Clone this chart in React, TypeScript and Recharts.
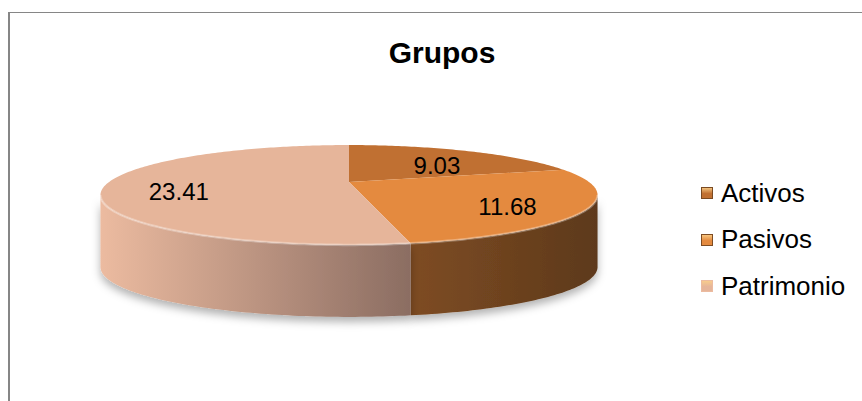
import React from "react";
import { PieChart, Pie, Cell, Legend } from "recharts";

// values
const categories = ["Activos", "Pasivos", "Patrimonio"];
const values = [9.03, 11.68, 23.41];
const title = "Grupos";

const data = categories.map((name, i) => ({ name, value: values[i] }));

const topColors: Record<string, string> = {
  Activos: "#c07032",
  Pasivos: "#e48a3f",
  Patrimonio: "#e6b59a",
};
const sideColors: Record<string, [string, string]> = {
  Activos: ["#7a4a22", "#5e391b"],
  Pasivos: ["#7e4c23", "#5d391b"],
  Patrimonio: ["#ecbba0", "#8b6d62"],
};

const FONT = '"Liberation Sans", Arial, sans-serif';
const RAD = Math.PI / 180;
// tilted disc with a bit of perspective (like Excel's 3-D pie)
const PERSP = 0.26;
const TILT = 0.194;
const DEPTH = 72;
const SILHOUETTE = Math.asin(PERSP) / RAD;

function project(cx: number, cy: number, r: number, deg: number, k = 1): [number, number] {
  const u = k * Math.cos(deg * RAD);
  const v = k * Math.sin(deg * RAD);
  const w = 1 + PERSP * v;
  return [cx + (r * u) / w, cy - (r * TILT * v) / w];
}

function arcPoints(cx: number, cy: number, r: number, from: number, to: number) {
  const pts: [number, number][] = [];
  const n = Math.max(2, Math.ceil(Math.abs(to - from)));
  for (let i = 0; i <= n; i++) pts.push(project(cx, cy, r, from + ((to - from) * i) / n));
  return pts;
}

const toPath = (pts: [number, number][]) =>
  pts.map((p, i) => `${i ? "L" : "M"}${p[0].toFixed(2)},${p[1].toFixed(2)}`).join(" ");

// parts of a slice that face the viewer
function frontRanges(start: number, end: number) {
  const lo0 = Math.min(start, end);
  const hi0 = Math.max(start, end);
  const out: [number, number][] = [];
  for (const k of [-360, 0, 360]) {
    const lo = Math.max(lo0, -180 + SILHOUETTE + k);
    const hi = Math.min(hi0, -SILHOUETTE + k);
    if (lo < hi) out.push([lo, hi]);
  }
  return out;
}

function SideShape(props: any) {
  const { cx, cy, outerRadius, startAngle, endAngle, name } = props;
  const key = String(name).replace(/\W/g, "");
  const [c0, c1] = sideColors[name] || ["#888", "#555"];
  return (
    <g>
      <defs>
        <linearGradient id={`side-${key}`} x1="0" y1="0" x2="1" y2="0">
          <stop offset="0%" stopColor={c0} />
          <stop offset="100%" stopColor={c1} />
        </linearGradient>
        <filter id={`shadow-${key}`} x="-10%" y="-30%" width="120%" height="170%">
          <feDropShadow dx="0" dy="5" stdDeviation="4" floodColor="#000" floodOpacity="0.3" />
        </filter>
      </defs>
      {frontRanges(startAngle, endAngle).map(([lo, hi], i) => {
        const top = arcPoints(cx, cy, outerRadius, hi, lo);
        const bottom = arcPoints(cx, cy, outerRadius, lo, hi).map(([x, y]) => [x, y + DEPTH] as [number, number]);
        return (
          <path
            key={i}
            d={toPath([...top, ...bottom]) + " Z"}
            fill={`url(#side-${key})`}
            filter={`url(#shadow-${key})`}
          />
        );
      })}
    </g>
  );
}

function TopShape(props: any) {
  const { cx, cy, outerRadius, startAngle, endAngle, fill } = props;
  const rim = arcPoints(cx, cy, outerRadius, startAngle, endAngle);
  return (
    <g>
      <path d={`M${cx},${cy} ` + toPath(rim).replace(/^M/, "L") + " Z"} fill={fill} />
      {frontRanges(startAngle, endAngle).map(([lo, hi], i) => (
        <path
          key={i}
          d={toPath(arcPoints(cx, cy, outerRadius, lo, hi))}
          fill="none"
          stroke="rgba(255,255,255,0.3)"
          strokeWidth={2.5}
        />
      ))}
    </g>
  );
}

function renderLabel(props: any) {
  const { cx, cy, midAngle, outerRadius, value } = props;
  const [x, y] = project(cx, cy, outerRadius, midAngle, 0.7);
  return (
    <text x={x} y={y + 6} textAnchor="middle" dominantBaseline="central" fontSize={24} fontFamily={FONT} fill="#000">
      {Number(value).toFixed(2)}
    </text>
  );
}

function LegendContent({ payload }: any) {
  const seen = new Set<string>();
  const items = (payload || []).filter((e: any) => {
    if (e.type === "none" || seen.has(e.value)) return false;
    seen.add(e.value);
    return true;
  });
  return (
    <div style={{ fontFamily: FONT, fontSize: 26, color: "#000" }}>
      {items.map((entry: any) => (
        <div key={entry.value} style={{ display: "flex", alignItems: "center", height: 46.5 }}>
          <span
            style={{
              display: "inline-block",
              width: 12,
              height: 12,
              marginRight: 8,
              background: `linear-gradient(180deg, #fbd08a 0%, ${entry.color} 55%)`,
              boxShadow: `inset 0 0 0 1px ${sideColors[entry.value]?.[0] ?? entry.color}`,
            }}
          />
          <span>{entry.value}</span>
        </div>
      ))}
    </div>
  );
}

export default function App() {
  return (
    <div style={{ position: "fixed", left: 0, top: 0, width: 862, height: 401, background: "#fff", overflow: "hidden" }}>
      <div
        style={{
          position: "absolute",
          left: 8,
          top: 12,
          width: 900,
          height: 420,
          borderTop: "1px solid #868686",
          borderLeft: "2px solid #868686",
        }}
      />
      <div
        style={{
          position: "absolute",
          left: 0,
          width: 884,
          top: 36,
          textAlign: "center",
          fontFamily: FONT,
          fontWeight: "bold",
          fontSize: 30,
          color: "#000",
        }}
      >
        {title}
      </div>
      <div style={{ position: "absolute", left: 0, top: 0 }}>
        <PieChart width={862} height={401} margin={{ top: 0, right: 0, bottom: 0, left: 0 }}>
          <Pie
            data={data}
            dataKey="value"
            nameKey="name"
            cx={349}
            cy={182}
            outerRadius={240}
            startAngle={90}
            endAngle={-270}
            shape={SideShape}
            legendType="none"
            isAnimationActive={false}
          >
            {data.map((d) => (
              <Cell key={d.name} fill={topColors[d.name]} />
            ))}
          </Pie>
          <Pie
            data={data}
            dataKey="value"
            nameKey="name"
            cx={349}
            cy={182}
            outerRadius={240}
            startAngle={90}
            endAngle={-270}
            shape={TopShape}
            label={renderLabel}
            labelLine={false}
            isAnimationActive={false}
          >
            {data.map((d) => (
              <Cell key={d.name} fill={topColors[d.name]} />
            ))}
          </Pie>
          <Legend
            layout="vertical"
            verticalAlign="top"
            align="right"
            content={<LegendContent />}
            wrapperStyle={{ left: 701, top: 170, width: 160 }}
          />
        </PieChart>
      </div>
    </div>
  );
}
